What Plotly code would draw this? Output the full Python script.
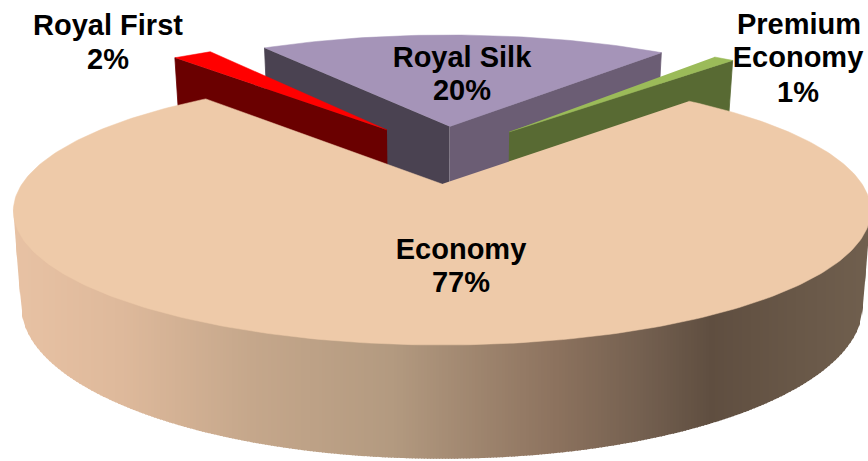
import numpy as np
import plotly.graph_objects as go

# Cabin mix, listed counter-clockwise from the first slice's start angle
categories = ["Premium Economy", "Royal Silk", "Royal First", "Economy"]
shares = [1, 20, 2, 77]

# Label lines and the places they are centred on the page
label_lines = ["Premium", "Economy", "1%", "Royal Silk", "20%", "Royal First", "2%", "Economy", "77%"]
label_x = [799, 798, 798, 462, 462, 108, 108, 461, 461]
label_y = [27, 60, 95, 60, 93, 28, 62, 252, 285]

# Disc-plane offset of each slice's apex (explosion), in disc radii
explode_u = [0.174, 0.02, -0.143, 0.0]
explode_v = [0.44, 0.49, 0.458, 0.0]
radius = [1.012, 1.015, 1.0, 1.0]

top_colors = ["#9bbb59", "#a594b8", "#ff0000", "#eecaa9"]
cut_colors = {
    "Premium Economy": ("#586a33", None),
    "Royal Silk": ("#6b5d74", "#4a4251"),
    "Royal First": (None, "#6a0000"),
}

# Shading of the outer wall, left to right across the page
wall_x = [10, 120, 250, 390, 555, 640, 710, 800, 868]
wall_r = [232, 222, 197, 179, 140, 116, 95, 105, 112]
wall_g = [194, 185, 167, 154, 114, 96, 78, 88, 95]
wall_b = [164, 155, 139, 128, 94, 80, 64, 72, 78]

# Camera for the tilted disc
CX, CY = 442.0, 184.0
A, B, P = 420.0, 128.8, 0.2
WALL, CONVERGE = 91.0, 0.982
START_DEG = 47.6
BAND = 3


def top(u, v):
    s = 1.0 / (1.0 + P * np.asarray(v, dtype=float))
    return CX + A * np.asarray(u) * s, CY - B * np.asarray(v) * s


def bottom(u, v):
    x, y = top(u, v)
    s = 1.0 / (1.0 + P * np.asarray(v, dtype=float))
    return CX + (x - CX) * CONVERGE, y + WALL * s


def polygon(x, y, color, width=0.8):
    return go.Scatter(
        x=list(x), y=list(y), mode="lines", fill="toself", fillcolor=color,
        line=dict(color=color, width=width), hoverinfo="skip", showlegend=False,
    )


def lower_chain(x, y):
    # Lower screen boundary of a point cloud (screen y grows downward)
    order = np.lexsort((y, x))
    chain = []
    for px, py in zip(x[order], y[order]):
        while len(chain) >= 2:
            (ax, ay), (bx_, by_) = chain[-2], chain[-1]
            if (bx_ - ax) * (py - ay) - (by_ - ay) * (px - ax) >= 0:
                chain.pop()
            else:
                break
        chain.append((px, py))
    chain = np.array(chain)
    return chain[:, 0], chain[:, 1]


fig = go.Figure()

# Slice angle ranges follow from the shares
sweeps = np.array(shares, dtype=float) / sum(shares) * 360.0
starts = START_DEG + np.concatenate([[0.0], np.cumsum(sweeps)[:-1]])
ends = starts + sweeps

# Rear slices: Silk first so the narrow slices sit in front of its cut faces
for i in [1, 2, 0]:
    name = categories[i]
    a0, a1 = np.radians(starts[i]), np.radians(ends[i])
    ou, ov, rad = explode_u[i], explode_v[i], radius[i]
    start_color, end_color = cut_colors[name]
    for ang, color in ((a1, end_color), (a0, start_color)):
        if color is None:
            continue
        eu, ev = ou + rad * np.cos(ang), ov + rad * np.sin(ang)
        tx, ty = top(np.array([ou, eu]), np.array([ov, ev]))
        bx, by = bottom(np.array([ou, eu]), np.array([ov, ev]))
        fig.add_trace(polygon([tx[0], tx[1], bx[1], bx[0]], [ty[0], ty[1], by[1], by[0]], color))
    t = np.linspace(a0, a1, 60)
    u = np.concatenate([[ou], ou + rad * np.cos(t)])
    v = np.concatenate([[ov], ov + rad * np.sin(t)])
    x, y = top(u, v)
    fig.add_trace(polygon(x, y, top_colors[i], 0.5))

# Outer wall of the large slice: the region between the front of the top rim
# and the lower outline of the whole solid, filled as upright shaded bands
eco = categories.index("Economy")
t = np.radians(np.linspace(130, 410, 1400))
tx, ty = top(np.cos(t), np.sin(t))
bx, by = bottom(np.cos(t), np.sin(t))
hull_x, hull_y = lower_chain(np.concatenate([tx, bx]), np.concatenate([ty, by]))
rim_x, rim_y = lower_chain(tx, ty)

first = int(np.floor(hull_x.min()))
for c in range(first, 870, BAND):
    xl, xr = max(c, hull_x.min()), c + BAND + 1
    lo = np.interp([xl, xr], hull_x, hull_y)
    up = np.interp([xl, xr], rim_x, rim_y) - 3
    up = np.minimum(up, lo)
    color = "rgb({:.0f},{:.0f},{:.0f})".format(
        np.interp(c, wall_x, wall_r), np.interp(c, wall_x, wall_g), np.interp(c, wall_x, wall_b)
    )
    fig.add_trace(go.Scatter(
        x=[xl, xr, xr, xl], y=[up[0], up[1], lo[1], lo[0]], mode="lines", fill="toself",
        fillcolor=color, line=dict(width=0), hoverinfo="skip", showlegend=False,
    ))

# Top face of the large slice
t = np.radians(np.linspace(starts[eco], ends[eco], 300))
u = np.concatenate([[explode_u[eco]], explode_u[eco] + np.cos(t)])
v = np.concatenate([[explode_v[eco]], explode_v[eco] + np.sin(t)])
x, y = top(u, v)
fig.add_trace(polygon(x, y, top_colors[eco], 0.5))

# Labels, one trace point per line so the leading stays tight
fig.add_trace(go.Scatter(
    x=label_x, y=label_y, mode="text", text=label_lines, textposition="middle center",
    textfont=dict(family="Liberation Sans, Arial, sans-serif", size=29, color="#000000",
                  weight="bold"),
    hoverinfo="skip", showlegend=False, cliponaxis=False,
))

fig.update_layout(
    width=868, height=461, margin=dict(l=0, r=0, t=0, b=0),
    paper_bgcolor="#ffffff", plot_bgcolor="#ffffff", showlegend=False,
    xaxis=dict(range=[0, 868], visible=False, fixedrange=True),
    yaxis=dict(range=[461, 0], visible=False, fixedrange=True),
)

fig.write_html("out.html", config={"displayModeBar": False})
